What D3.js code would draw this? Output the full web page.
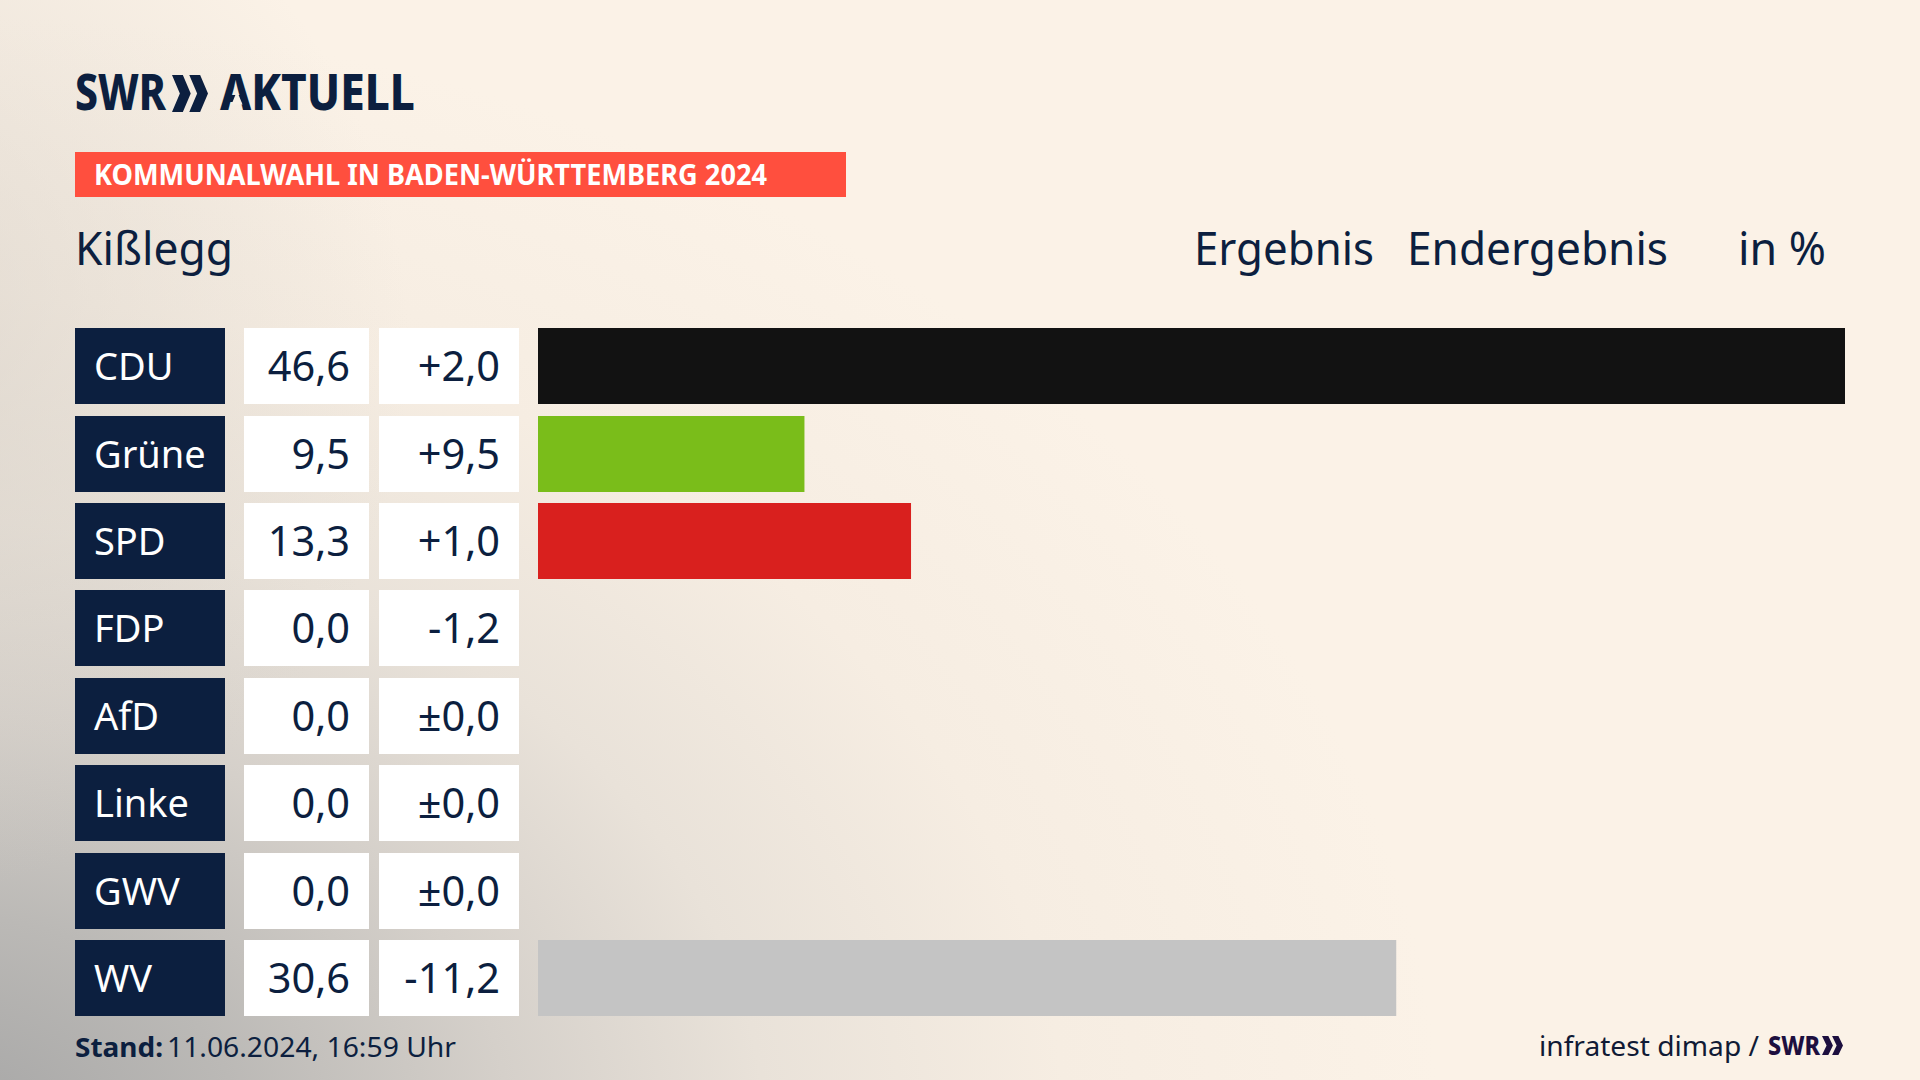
<!DOCTYPE html>
<html><head><meta charset="utf-8">
<script src="https://cdn.jsdelivr.net/npm/d3@7"></script>
<style>html,body{margin:0;padding:0;background:#fbf2e7;overflow:hidden}svg{display:block}text{font-family:"Noto Sans",sans-serif}</style>
</head><body><svg id="c" width="1920" height="1080"></svg>
<script>
const parties=["CDU","Grüne","SPD","FDP","AfD","Linke","GWV","WV"];
const results=[46.6,9.5,13.3,0,0,0,0,30.6];
const changes=[2.0,9.5,1.0,-1.2,0,0,0,-11.2];
const colors=["#121212","#7abd1a","#d9201e","#f5d000","#0099dd","#c0106a","#888888","#c4c4c4"];
const banner="KOMMUNALWAHL IN BADEN-WÜRTTEMBERG 2024";
const place="Kißlegg";
const navy="#0c1f3f";
const svg=d3.select("#c");
const defs=svg.append("defs");
function grad(id,cx,cy,r,stops,tr){
  const g=defs.append("radialGradient").attr("id",id).attr("gradientUnits","userSpaceOnUse").attr("cx",cx).attr("cy",cy).attr("r",r);
  if(tr)g.attr("gradientTransform",tr);
  stops.forEach(s=>g.append("stop").attr("offset",s[0]).attr("stop-color",s[1]).attr("stop-opacity",s[2]));
}
grad("g1",-60,1140,1500,[[0,"#a4a4a4",1],[.2,"#bbb9b6",1],[.38,"#d5d0ca",1],[.55,"#e9e2d9",1],[.75,"#f6ede2",1],[1,"#fbf2e7",1]],"translate(0 285) scale(1 .75)");
grad("g2",-150,350,560,[[0,"#d2ccc4",.6],[1,"#d2ccc4",0]]);
svg.append("rect").attr("width",1920).attr("height",1080).attr("fill","url(#g1)");
svg.append("rect").attr("width",1920).attr("height",1080).attr("fill","url(#g2)");

function fit(t,w){t.attr("textLength",w).attr("lengthAdjust","spacingAndGlyphs");return t;}
function chev(g,x,y,w,h,fill){
  const cw=w*.52, off=w*.48, th=cw*.58;
  [0,off].forEach(dx=>g.append("path").attr("fill",fill).attr("d",`M${x+dx} ${y}L${x+dx+th} ${y}L${x+dx+cw} ${y+h/2}L${x+dx+th} ${y+h}L${x+dx} ${y+h}L${x+dx+cw-th} ${y+h/2}Z`));
}
// logo
fit(svg.append("text").attr("x",75).attr("y",110).attr("font-size",49).attr("font-weight",800).attr("fill",navy).text("SWR"),91);
chev(svg,172,75,36,37,navy);
fit(svg.append("text").attr("x",220).attr("y",110).attr("font-size",49).attr("font-weight",800).attr("fill",navy).text("AKTUELL"),195);
// the logo's A has no crossbar
svg.append("path").attr("fill","#f8f0e5").attr("d","M237 91L231.5 104.5L242.5 104.5Z");
// banner
svg.append("rect").attr("x",75).attr("y",152).attr("width",771).attr("height",45).attr("fill","#ff4f3e");
fit(svg.append("text").attr("x",94).attr("y",185).attr("font-size",28).attr("font-weight",700).attr("fill","#fff").text(banner),673);
// heads
const hd=(s,x,w)=>fit(svg.append("text").attr("x",x).attr("y",265).attr("font-size",46).attr("fill",navy).text(s),w);
hd(place,75,158);hd("Ergebnis",1194,180);hd("Endergebnis",1407,261);hd("in %",1738,88);
// rows
const y0=d3.scaleBand().domain(parties).range([328,1016]).paddingInner(.1307);
const y=p=>Math.round(y0(p)+.2);
const x=d3.scaleLinear().domain([0,46.6]).range([538,1845]);
const fmt=v=>v.toFixed(1).replace(".",",");
const fmtC=v=>v===0?"±0,0":(v>0?"+":"-")+fmt(Math.abs(v));
const rows=svg.selectAll("g.row").data(parties.map((p,i)=>({p,r:results[i],c:changes[i],col:colors[i]}))).join("g").attr("class","row");
const h=76;
rows.append("rect").attr("x",75).attr("y",d=>y(d.p)).attr("width",150).attr("height",h).attr("fill",navy);
rows.append("rect").attr("x",244).attr("y",d=>y(d.p)).attr("width",125).attr("height",h).attr("fill","#fff");
rows.append("rect").attr("x",379).attr("y",d=>y(d.p)).attr("width",140).attr("height",h).attr("fill","#fff");
rows.filter(d=>d.r>0).append("rect").attr("x",x(0)).attr("y",d=>y(d.p)).attr("width",d=>x(d.r)-x(0)).attr("height",h).attr("fill",d=>d.col);
rows.append("text").attr("x",94).attr("y",d=>y(d.p)+h/2+14).attr("font-size",38).attr("fill","#fff").text(d=>d.p);
rows.append("text").attr("x",350).attr("y",d=>y(d.p)+h/2+15).attr("text-anchor","end").attr("font-size",41.5).attr("fill",navy).text(d=>fmt(d.r));
rows.append("text").attr("x",500).attr("y",d=>y(d.p)+h/2+15).attr("text-anchor","end").attr("font-size",41.5).attr("fill",navy).text(d=>fmtC(d.c));
// footer
fit(svg.append("text").attr("x",75).attr("y",1057).attr("font-size",27).attr("font-weight",700).attr("fill",navy).text("Stand:"),88);
fit(svg.append("text").attr("x",167).attr("y",1057).attr("font-size",27).attr("fill",navy).text("11.06.2024, 16:59 Uhr"),289);
fit(svg.append("text").attr("x",1539).attr("y",1056).attr("font-size",28).attr("fill","#101a35").text("infratest dimap /"),220);
fit(svg.append("text").attr("x",1768).attr("y",1055).attr("font-size",26).attr("font-weight",800).attr("fill","#1d0f3f").text("SWR"),52);
chev(svg,1822,1036,21,19,"#1d0f3f");
</script></body></html>
